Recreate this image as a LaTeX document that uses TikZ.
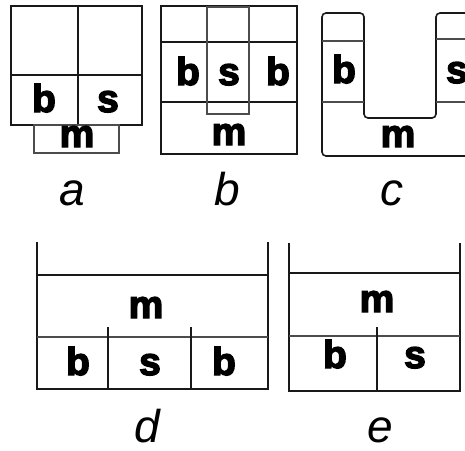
\documentclass[tikz,border=0pt]{standalone}
\usepackage{fontspec}
\setmainfont{Liberation Sans}
\newfontfamily\lblfont[FakeBold=3.5]{Liberation Sans Bold}
\newfontfamily\capfont{Liberation Sans Italic}
\begin{document}
\begin{tikzpicture}[x=1pt,y=-1pt,
  outline/.style={draw=black!90,line width=1.6pt},
  inner/.style={draw=black!70,line width=1.4pt},
  lbl/.style={font=\lblfont\fontsize{39}{39}\selectfont,inner sep=0pt,anchor=base},
  captxt/.style={font=\capfont\fontsize{46}{46}\selectfont,inner sep=0pt,anchor=base}]
\useasboundingbox (0,0) rectangle (465,450);
\clip (0,0) rectangle (465,450);
% panel a
\draw[outline] (11,6) rectangle (142,125);
\draw[outline] (78,6) -- (78,125);
\draw[outline] (11,75) -- (142,75);
\draw[inner] (34,125) rectangle (119,153);
\node[lbl] (ab) at (44,112) {b};
\node[lbl] (as) at (108,112) {s};
\node[lbl] (am) at (77,147) {m};
\node[captxt] (ca) at (72,205) {a};
% panel b
\draw[outline] (161,6) rectangle (297,154);
\draw[outline] (161,42) -- (297,42);
\draw[outline] (161,102) -- (297,102);
\draw[inner] (207,7) rectangle (249,114);
\node[lbl] (bb1) at (188,85) {b};
\node[lbl] (bs) at (229,85) {s};
\node[lbl] (bb2) at (278,85) {b};
\node[lbl] (bm) at (229,145) {m};
\node[captxt] (cb) at (227,205) {b};
% panel c
\draw[outline,rounded corners=4pt] (364,13) -- (322,13) -- (322,156) -- (480,156) -- (480,13) -- (436,13) -- (436,118) -- (364,118) -- cycle;
\draw[inner] (322,41) -- (364,41);
\draw[inner] (322,102) -- (364,102);
\draw[inner] (436,39) -- (480,39);
\draw[inner] (436,102) -- (480,102);
\node[lbl] (cbl) at (344,83) {b};
\node[lbl] (csl) at (457,83) {s};
\node[lbl] (cm) at (398,147) {m};
\node[captxt] (cc) at (392,205) {c};
% panel d
\draw[outline] (37,242) -- (37,389) -- (268,389) -- (268,242);
\draw[outline] (37,275) -- (268,275);
\draw[inner] (37,337) -- (268,337);
\draw[outline] (108,327) -- (108,389);
\draw[outline] (191,327) -- (191,389);
\node[lbl] (dm) at (146,318) {m};
\node[lbl] (db1) at (78,375) {b};
\node[lbl] (ds) at (150,375) {s};
\node[lbl] (db2) at (224,375) {b};
\node[captxt] (cd) at (147,442) {d};
% panel e
\draw[outline] (289,243) -- (289,391) -- (460,391) -- (460,243);
\draw[outline] (289,273) -- (460,273);
\draw[inner] (289,336) -- (460,336);
\draw[outline] (377,327) -- (377,391);
\node[lbl] (em) at (377,312) {m};
\node[lbl] (eb) at (335,368) {b};
\node[lbl] (es) at (415,368) {s};
\node[captxt] (ce) at (380,442) {e};
\end{tikzpicture}
\end{document}
